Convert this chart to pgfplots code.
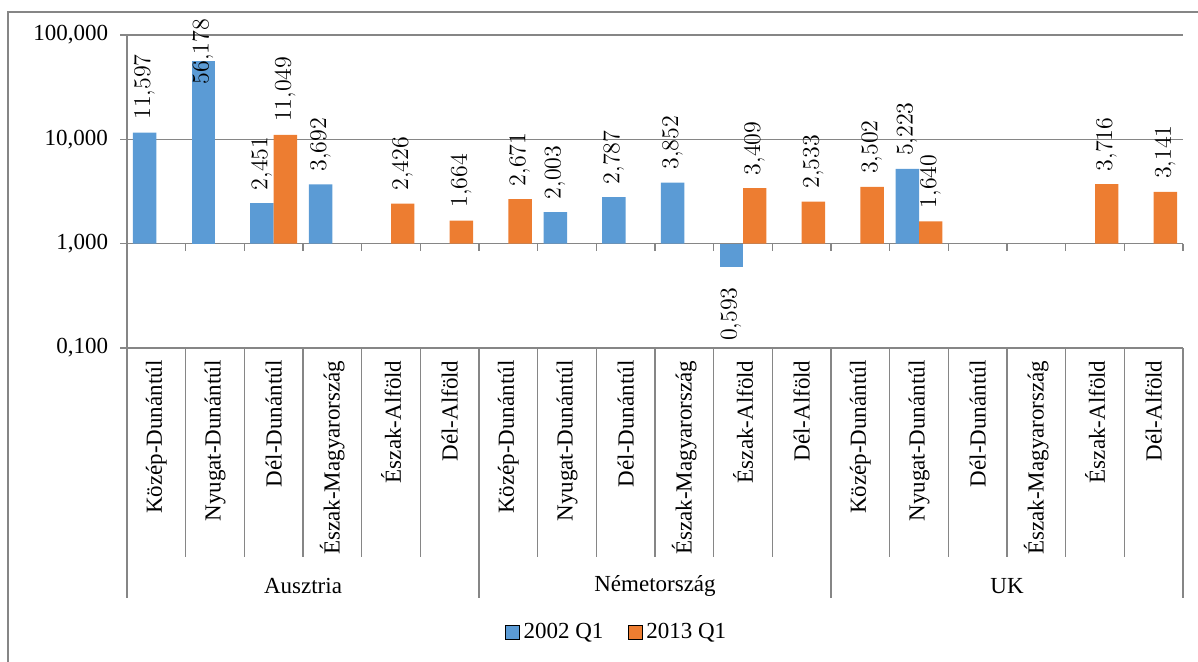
\documentclass[border=0pt]{standalone}
\usepackage{fontspec}
\setmainfont{Liberation Serif}
\usepackage{pgfplots}
\pgfplotsset{compat=1.18}
\definecolor{cblue}{HTML}{5B9BD5}
\definecolor{corange}{HTML}{ED7D31}
\definecolor{lgray}{RGB}{134,134,134}
\newcommand\cf{\fontsize{11.5}{13.8}\selectfont}
\pgfplotstableread{
x y
0 11.597
2 2.451
3 3.692
7 2.003
8 2.787
9 3.852
13 5.223
}\blueA
\pgfplotstableread{
x y
1 56.178
}\blueB
\pgfplotstableread{
x y
10 0.593
}\blueC
\pgfplotstableread{
x y
2 11.049
4 2.426
5 1.664
6 2.671
10 3.409
11 2.533
12 3.502
13 1.640
16 3.716
17 3.141
}\orangeA
\begin{document}
\begin{tikzpicture}
\path[use as bounding box] (-63.5pt,-156.5pt) rectangle (535.5pt,174pt);
\draw[lgray, line width=0.6pt] (-59.5pt,-160pt) -- (-59.5pt,168pt) -- (540pt,168pt);
\begin{axis}[
  at={(0,0)}, anchor=south west,
  scale only axis, width=528pt, height=156.5pt,
  ymode=log, ymin=0.1, ymax=100,
  xmin=-0.5, xmax=17.5,
  ybar, bar width=0.4,
  clip=false,
  axis line style={draw=none},
  tick style={draw=none},
  ymajorgrids, grid style={lgray, line width=0.6pt},
  ytick={0.1,1,10,100},
  yticklabels={{0,100},{1,000},{10,000},{100,000}},
  yticklabel style={anchor=east, inner sep=0pt, outer xsep=9.5pt, font=\cf},
  xtick={0,...,17},
  xticklabels={Közép-Dunántúl,Nyugat-Dunántúl,Dél-Dunántúl,Észak-Magyarország,Észak-Alföld,Dél-Alföld,Közép-Dunántúl,Nyugat-Dunántúl,Dél-Dunántúl,Észak-Magyarország,Észak-Alföld,Dél-Alföld,Közép-Dunántúl,Nyugat-Dunántúl,Dél-Dunántúl,Észak-Magyarország,Észak-Alföld,Dél-Alföld},
  xticklabel style={rotate=90, anchor=east, inner sep=0pt, outer xsep=2pt, font=\cf},
  point meta=explicit,
  nodes near coords={\pgfmathprintnumber[fixed,fixed zerofill,precision=3,use comma]{\pgfplotspointmeta}},
  legend image code/.code={\draw[#1] (0pt,-3.5pt) rectangle (7pt,3.5pt);},
  legend style={draw=none, at={(0.4645,-0.907)}, anchor=center, legend columns=2, font=\cf,
    /tikz/every even column/.append style={column sep=10pt}},
]
\addplot[fill=cblue, draw=none, bar shift=-0.2,
  every node near coord/.append style={rotate=90, anchor=west, inner sep=0pt, outer xsep=6.5pt, font=\cf, text=black}]
  table[x=x, y=y, meta=y] {\blueA};
\addplot[fill=corange, draw=none, bar shift=0.2,
  every node near coord/.append style={rotate=90, anchor=west, inner sep=0pt, outer xsep=6.5pt, font=\cf, text=black}]
  table[x=x, y=y, meta=y] {\orangeA};
\addplot[forget plot, fill=cblue, draw=none, bar shift=-0.2,
  every node near coord/.append style={rotate=90, anchor=west, inner sep=0pt, outer xsep=-11.5pt, font=\cf, text=black}]
  table[x=x, y=y, meta=y] {\blueB};
\addplot[forget plot, fill=cblue, draw=none, bar shift=-0.2,
  every node near coord/.append style={rotate=90, anchor=east, inner sep=0pt, outer xsep=10pt, font=\cf, text=black}]
  table[x=x, y=y, meta=y] {\blueC};
\legend{2002 Q1, 2013 Q1}
% axis line and ticks
\draw[lgray, line width=0.6pt] (axis cs:-0.5,100) -- (axis cs:-0.5,0.1);
\draw[lgray, line width=0.6pt]
  (axis cs:-0.5,100) -- ([xshift=-3.5pt]axis cs:-0.5,100)
  (axis cs:-0.5,10) -- ([xshift=-3.5pt]axis cs:-0.5,10)
  (axis cs:-0.5,1) -- ([xshift=-3.5pt]axis cs:-0.5,1)
  (axis cs:-0.5,0.1) -- ([xshift=-3.5pt]axis cs:-0.5,0.1);
\draw[lgray, line width=0.6pt]
  (axis cs:0.5,1) -- ([yshift=-3.5pt]axis cs:0.5,1) (axis cs:1.5,1) -- ([yshift=-3.5pt]axis cs:1.5,1)
  (axis cs:2.5,1) -- ([yshift=-3.5pt]axis cs:2.5,1) (axis cs:3.5,1) -- ([yshift=-3.5pt]axis cs:3.5,1)
  (axis cs:4.5,1) -- ([yshift=-3.5pt]axis cs:4.5,1) (axis cs:5.5,1) -- ([yshift=-3.5pt]axis cs:5.5,1)
  (axis cs:6.5,1) -- ([yshift=-3.5pt]axis cs:6.5,1) (axis cs:7.5,1) -- ([yshift=-3.5pt]axis cs:7.5,1)
  (axis cs:8.5,1) -- ([yshift=-3.5pt]axis cs:8.5,1) (axis cs:9.5,1) -- ([yshift=-3.5pt]axis cs:9.5,1)
  (axis cs:10.5,1) -- ([yshift=-3.5pt]axis cs:10.5,1) (axis cs:11.5,1) -- ([yshift=-3.5pt]axis cs:11.5,1)
  (axis cs:12.5,1) -- ([yshift=-3.5pt]axis cs:12.5,1) (axis cs:13.5,1) -- ([yshift=-3.5pt]axis cs:13.5,1)
  (axis cs:14.5,1) -- ([yshift=-3.5pt]axis cs:14.5,1) (axis cs:15.5,1) -- ([yshift=-3.5pt]axis cs:15.5,1)
  (axis cs:16.5,1) -- ([yshift=-3.5pt]axis cs:16.5,1) (axis cs:17.5,1) -- ([yshift=-3.5pt]axis cs:17.5,1);
% category dividers
\draw[lgray, line width=0.6pt]
  (axis cs:0.5,0.1) -- ([yshift=-104.5pt]axis cs:0.5,0.1) (axis cs:1.5,0.1) -- ([yshift=-104.5pt]axis cs:1.5,0.1)
  (axis cs:2.5,0.1) -- ([yshift=-104.5pt]axis cs:2.5,0.1) (axis cs:3.5,0.1) -- ([yshift=-104.5pt]axis cs:3.5,0.1)
  (axis cs:4.5,0.1) -- ([yshift=-104.5pt]axis cs:4.5,0.1)
  (axis cs:6.5,0.1) -- ([yshift=-104.5pt]axis cs:6.5,0.1) (axis cs:7.5,0.1) -- ([yshift=-104.5pt]axis cs:7.5,0.1)
  (axis cs:8.5,0.1) -- ([yshift=-104.5pt]axis cs:8.5,0.1) (axis cs:9.5,0.1) -- ([yshift=-104.5pt]axis cs:9.5,0.1)
  (axis cs:10.5,0.1) -- ([yshift=-104.5pt]axis cs:10.5,0.1)
  (axis cs:12.5,0.1) -- ([yshift=-104.5pt]axis cs:12.5,0.1) (axis cs:13.5,0.1) -- ([yshift=-104.5pt]axis cs:13.5,0.1)
  (axis cs:14.5,0.1) -- ([yshift=-104.5pt]axis cs:14.5,0.1) (axis cs:15.5,0.1) -- ([yshift=-104.5pt]axis cs:15.5,0.1)
  (axis cs:16.5,0.1) -- ([yshift=-104.5pt]axis cs:16.5,0.1);
\draw[lgray, line width=0.6pt]
  (axis cs:-0.5,0.1) -- ([yshift=-125pt]axis cs:-0.5,0.1) (axis cs:5.5,0.1) -- ([yshift=-125pt]axis cs:5.5,0.1)
  (axis cs:11.5,0.1) -- ([yshift=-125pt]axis cs:11.5,0.1) (axis cs:17.5,0.1) -- ([yshift=-125pt]axis cs:17.5,0.1);
% group labels
\node[font=\cf, inner sep=0pt] at ([yshift=-119pt]axis cs:2.5,0.1) {Ausztria};
\node[font=\cf, inner sep=0pt] at ([yshift=-119pt]axis cs:8.5,0.1) {Németország};
\node[font=\cf, inner sep=0pt] at ([yshift=-119pt]axis cs:14.5,0.1) {UK};
\end{axis}
\end{tikzpicture}
\end{document}
